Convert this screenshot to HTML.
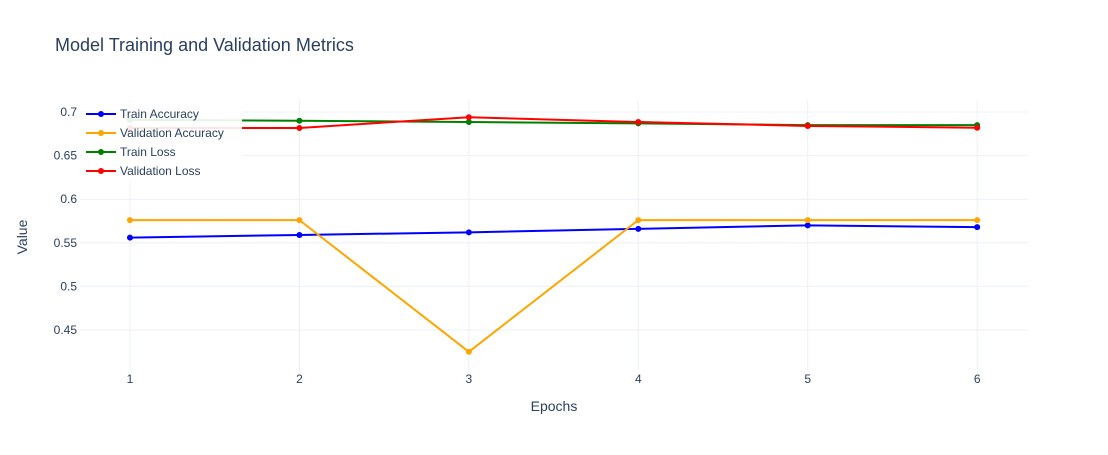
<!DOCTYPE html>
<html><head><meta charset="utf-8"><style>
body{margin:0;background:#fff;font-family:"Liberation Sans",Arial,sans-serif;}
svg text{font-family:"Liberation Sans",Arial,sans-serif;fill:#2a3f5f;}
</style></head><body>
<svg id="chart" width="1108" height="450">
<text x="55" y="51" font-size="18">Model Training and Validation Metrics</text>
<g id="grid"></g><g id="series"></g><g id="ticks"></g>
<text x="554" y="411" font-size="14" text-anchor="middle">Epochs</text>
<text x="27" y="237" font-size="14" text-anchor="middle" transform="rotate(-90 27 237)">Value</text>
<g id="legend"></g>
</svg>
<script>
const epochs=[1,2,3,4,5,6];
const trainAcc=[0.556,0.559,0.562,0.566,0.570,0.568];
const valAcc=[0.576,0.576,0.425,0.576,0.576,0.576];
const trainLoss=[0.691,0.690,0.6885,0.687,0.685,0.685];
const valLoss=[0.6817,0.6817,0.694,0.6885,0.684,0.682];
const yTicks=[0.45,0.5,0.55,0.6,0.65,0.7];
const yTickLabels=["0.45","0.5","0.55","0.6","0.65","0.7"];
const seriesNames=["Train Accuracy","Validation Accuracy","Train Loss","Validation Loss"];
const colors=["blue","orange","green","red"];
const L=80,R=1028,T=100,B=370;
const xMin=0.705,xMax=6.3;
function xs(v){return L+(v-xMin)/(xMax-xMin)*(R-L);}
function ys(v){return 112+(0.7-v)*872;}
const NS="http://www.w3.org/2000/svg";
function mk(t,a,p){const e=document.createElementNS(NS,t);for(const k in a)e.setAttribute(k,a[k]);p.appendChild(e);return e;}
const grid=document.getElementById('grid'),ticks=document.getElementById('ticks'),ser=document.getElementById('series'),leg=document.getElementById('legend');
yTicks.forEach((v,i)=>{
 const l=mk('line',{x1:L,x2:R,y1:ys(v),y2:ys(v),stroke:'#ebf0f8','stroke-width':1},grid);
 
 
 const t=mk('text',{x:L-3,y:ys(v)+4,'font-size':12,'text-anchor':'end'},ticks);
 t.textContent=yTickLabels[i];
 
 
});
epochs.forEach(v=>{
 const l=mk('line',{x1:xs(v),x2:xs(v),y1:T,y2:B,stroke:'#ebf0f8','stroke-width':1},grid);
 
 
 const t=mk('text',{x:xs(v),y:B+13,'font-size':12,'text-anchor':'middle'},ticks);
 t.textContent=String(v);
 
 
});
[trainAcc,valAcc,trainLoss,valLoss].forEach((d,si)=>{
 const g=mk('g',{},ser);
 
 
 const p=mk('polyline',{points:d.map((v,i)=>xs(epochs[i])+','+ys(v)).join(' '),fill:'none',stroke:colors[si],'stroke-width':2},g);
 
 
 d.forEach((v,i)=>{
  const c=mk('circle',{cx:xs(epochs[i]),cy:ys(v),r:3,fill:colors[si]},g);
  
  
 });
});
const bg=mk('rect',{x:82,y:102,width:160,height:80,fill:'rgba(255,255,255,0.9)'},leg);


seriesNames.forEach((n,i)=>{
 const y=114+i*19;
 const g=mk('g',{},leg);
 
 
 mk('line',{x1:86,x2:116,y1:y,y2:y,stroke:colors[i],'stroke-width':2},g);
 mk('circle',{cx:101,cy:y,r:3,fill:colors[i]},g);
 const t=mk('text',{x:120,y:y+4,'font-size':12},g);
 t.textContent=n;
});
</script>
</body></html>
